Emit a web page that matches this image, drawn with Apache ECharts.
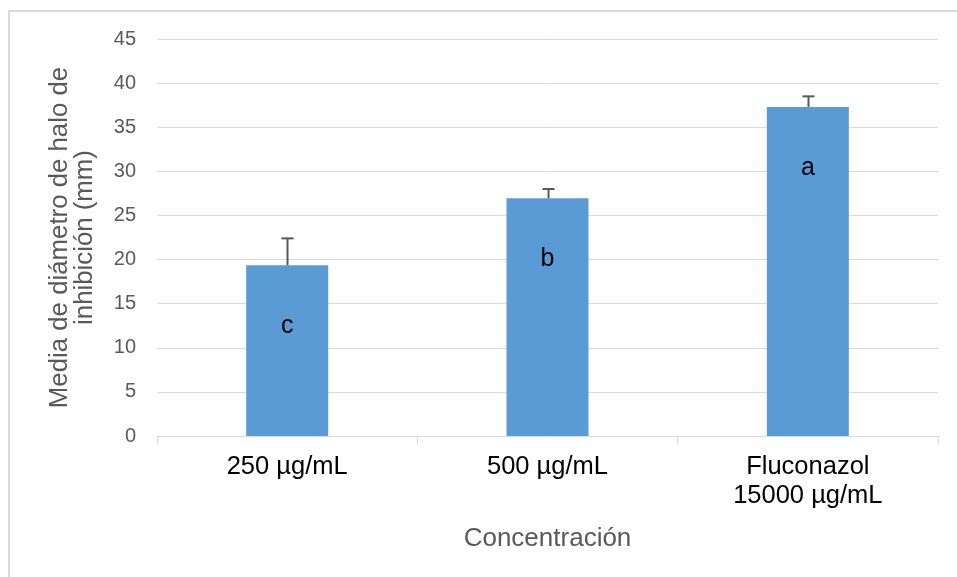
<!DOCTYPE html>
<html>
<head>
<meta charset="utf-8">
<script src="https://cdn.jsdelivr.net/npm/echarts@6/dist/echarts.min.js"></script>
<style>
html,body{margin:0;padding:0;background:#fff;}
#frame{position:absolute;left:8px;top:10px;width:949px;height:567px;border-left:2px solid #d9d9d9;border-top:2px solid #d9d9d9;box-sizing:border-box;}
#chart{position:absolute;left:0;top:0;width:957px;height:577px;}
</style>
</head>
<body>
<div id="frame"></div>
<div id="chart"></div>
<script>
var categories = ['250 µg/mL', '500 µg/mL', 'Fluconazol\n15000 µg/mL'];
var means = [19.35, 26.95, 37.3];
var errorTops = [22.4, 28.0, 38.5];
var letters = ['c', 'b', 'a'];
var yTicks = { min: 0, max: 45, interval: 5 };

var chart = echarts.init(document.getElementById('chart'), null, { renderer: 'canvas' });
var font = '"Liberation Sans", Arial, sans-serif';

chart.setOption({
  backgroundColor: 'transparent',
  animation: false,
  grid: { left: 157, right: 19, top: 39, bottom: 141 },
  xAxis: {
    type: 'category',
    data: categories,
    name: 'Concentración',
    nameLocation: 'middle',
    nameGap: 90,
    nameTextStyle: { color: '#595959', fontSize: 26, fontFamily: font },
    axisLine: { lineStyle: { color: '#d9d9d9', width: 1 } },
    axisTick: { show: true, length: 8, lineStyle: { color: '#d9d9d9' } },
    axisLabel: { color: '#000', fontSize: 25.5, fontFamily: font, margin: 16, lineHeight: 29 }
  },
  yAxis: {
    type: 'value',
    min: yTicks.min, max: yTicks.max, interval: yTicks.interval,
    name: 'Media de diámetro de halo de\ninhibición (mm)',
    nameLocation: 'middle',
    nameGap: 60,
    nameTextStyle: { color: '#595959', fontSize: 25.8, fontFamily: font, lineHeight: 25 },
    axisLine: { show: false },
    axisTick: { show: false },
    axisLabel: { color: '#595959', fontSize: 20, fontFamily: font, margin: 21 },
    splitLine: { lineStyle: { color: '#d9d9d9', width: 1 } }
  },
  series: [
    {
      type: 'bar',
      data: means.map(function (v, i) {
        return { value: v, label: { formatter: letters[i] } };
      }),
      barWidth: '31.5%',
      itemStyle: { color: '#5b9bd5' },
      label: {
        show: true,
        position: ['50%', 61],
        align: 'center',
        verticalAlign: 'middle',
        color: '#000',
        fontSize: 25,
        fontFamily: font
      },
      z: 2
    },
    {
      type: 'custom',
      data: means.map(function (v, i) { return [i, v, errorTops[i]]; }),
      z: 3,
      renderItem: function (params, api) {
        var base = api.coord([api.value(0), api.value(1)]);
        var top = api.coord([api.value(0), api.value(2)]);
        var x = Math.round(base[0]) + 0.5;
        var style = { stroke: '#595959', lineWidth: 2 };
        return {
          type: 'group',
          children: [
            { type: 'line', shape: { x1: x, y1: base[1], x2: x, y2: top[1] }, style: style },
            { type: 'line', shape: { x1: x - 6, y1: top[1], x2: x + 6, y2: top[1] }, style: style }
          ]
        };
      }
    }
  ]
});
</script>
</body>
</html>
